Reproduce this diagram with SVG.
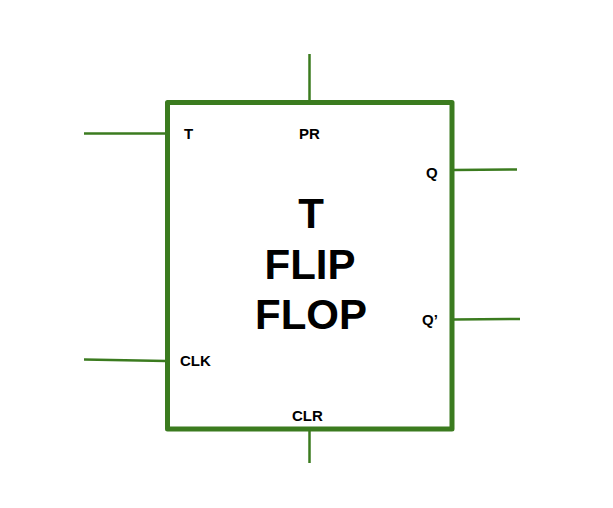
<svg xmlns="http://www.w3.org/2000/svg" width="613" height="508" viewBox="0 0 613 508">
<style>
.box{fill:none;stroke:#3b7b1f;stroke-width:5;stroke-linejoin:round}
.wire{stroke:#3b7b1f;stroke-width:2.5;fill:none}
.lbl{font-family:"Liberation Sans",Arial,sans-serif;font-weight:bold;font-size:15px;fill:#000}
.big{font-family:"Liberation Sans",Arial,sans-serif;font-weight:bold;font-size:42px;fill:#000;text-anchor:middle}
</style>
<rect width="613" height="508" fill="#fff"/>
<g id="connectors">
<line class="wire" x1="84" y1="133.5" x2="166" y2="133.5"/>
<line class="wire" x1="309.5" y1="54" x2="309.5" y2="101"/>
<line class="wire" x1="453" y1="170" x2="517" y2="169.5"/>
<line class="wire" x1="453" y1="319.5" x2="520" y2="319"/>
<line class="wire" x1="84" y1="359.5" x2="166" y2="361"/>
<line class="wire" x1="309.5" y1="430" x2="309.5" y2="463"/>
</g>
<g id="tff">
<rect class="box" x="167.5" y="102.5" width="284.5" height="326.5"/>
<text class="big" x="311" y="228">T</text>
<text class="big" x="310" y="279">FLIP</text>
<text class="big" x="311" y="329">FLOP</text>
</g>
<g id="labels">
<text class="lbl" x="184" y="139">T</text>
<text class="lbl" x="299" y="139">PR</text>
<text class="lbl" x="426" y="178">Q</text>
<text class="lbl" x="422" y="325">Q’</text>
<text class="lbl" x="180" y="366">CLK</text>
<text class="lbl" x="292" y="421">CLR</text>
</g>
</svg>
